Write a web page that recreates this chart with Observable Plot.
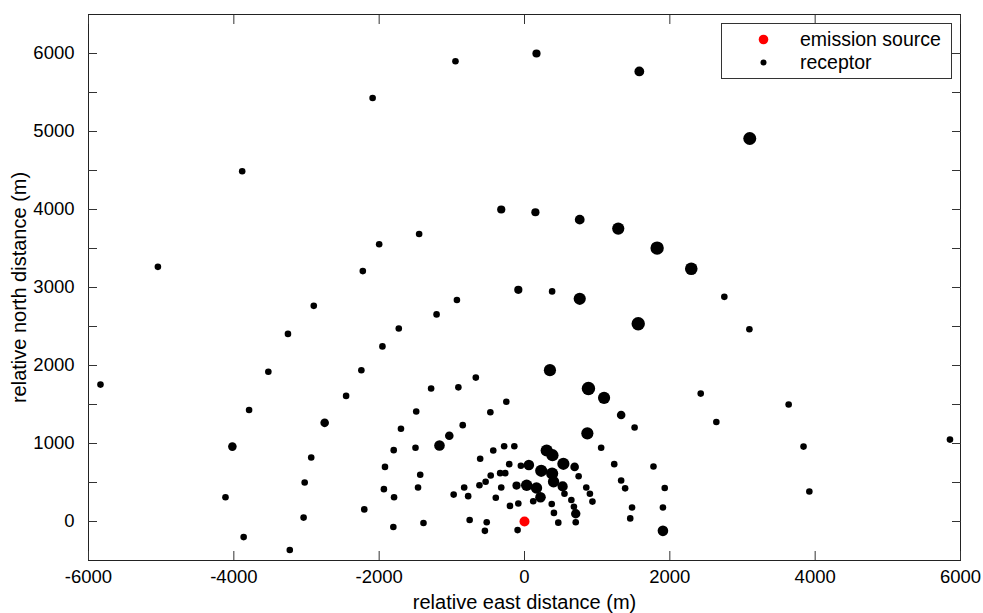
<!DOCTYPE html>
<html>
<head>
<meta charset="utf-8">
<script src="https://cdn.jsdelivr.net/npm/d3@7"></script>
<script src="https://cdn.jsdelivr.net/npm/@observablehq/plot@0.6"></script>
<style>
  html, body { margin: 0; padding: 0; background: white; }
  #wrap { position: relative; width: 983px; height: 613px; font-family: "Liberation Sans", Arial, sans-serif; }
  #legend { position: absolute; left: 721px; top: 23px; }
  #chart svg g[aria-label="x-axis label"] text, #chart svg g[aria-label="y-axis label"] text { font-size: 20px; }
</style>
</head>
<body>
<div id="wrap"><div id="chart"></div></div>
<script>
// Receptor positions (m) relative to the emission source, and relative concentration (marker size)
const eastDistance = [
  -950, 165, 1580, -2090, 3100, -3885, -320, -1450, -2000, -5045,
  -2225, 150, 760, 1290, 1825, 2295, -85, -930, -1210, -2900,
  -1730, -3255, -1955, -3525, -2245, -5835, -670, -1285, -910, -2455,
  -3790, -250, -470, -1490, -2750, -1700, -850, -1035, -4020, -1170,
  -1800, -1500, -280, -140, -430, -610, -2935, -1920, -210, -50,
  -335, -265, -465, -1435, -3025, -535, -620, -110, -320, -830,
  -1465, -1935, -4115, -1795, -975, -775, -395, -85, -200, -2205,
  -3040, -755, -520, -1390, -1805, -545, -95, -3865, -3230, 380,
  760, 2750, 1565, 3095, 350, 880, 1095, 2425, 3635, 1330,
  2640, 1515, 865, 5855, 1055, 3840, 305, 385, 60, 535,
  690, 1235, 1775, 230, 380, 745, 400, 30, 165, 525,
  850, 1330, 1930, 3920, 1385, 550, 220, 900, 120, 645,
  935, 375, 680, 1480, 1905, 405, 705, 1455, 465, 705,
  1905
];
const northDistance = [
  5900, 6000, 5770, 5430, 4910, 4490, 4000, 3685, 3555, 3265,
  3210, 3965, 3870, 3755, 3505, 3240, 2970, 2840, 2655, 2765,
  2475, 2405, 2245, 1920, 1940, 1755, 1845, 1705, 1720, 1610,
  1430, 1535, 1400, 1410, 1265, 1190, 1235, 1100, 960, 975,
  915, 945, 965, 965, 910, 805, 820, 700, 735, 715,
  620, 620, 590, 600, 500, 510, 465, 460, 435, 435,
  435, 415, 310, 310, 345, 325, 305, 230, 200, 155,
  50, 20, -10, -20, -70, -120, -110, -200, -365, 2950,
  2855, 2880, 2535, 2465, 1940, 1705, 1585, 1640, 1500, 1365,
  1275, 1205, 1130, 1050, 945, 960, 910, 850, 725, 740,
  700, 735, 705, 650, 615, 580, 510, 465, 430, 450,
  435, 525, 430, 385, 425, 355, 310, 355, 260, 275,
  255, 225, 190, 180, 180, 110, 100, 40, -15, -10,
  -120
];
const concentration = [
  1, 3, 5, 1, 9, 1, 3, 1, 1, 1,
  1, 3, 5, 8, 9.5, 8.5, 3, 1, 1, 1,
  1, 1, 1, 1, 1, 1, 1, 1, 1, 1,
  1, 1, 1, 1, 3.5, 1, 1, 3.5, 3.5, 6,
  1, 1, 1, 1, 1, 1, 1, 1, 1, 1,
  1, 1, 1, 1, 1, 1, 1, 3, 1, 1,
  1, 1, 1, 1, 1, 1, 1, 1, 1, 1,
  1, 1, 1, 1, 1, 1, 1, 1, 1, 1,
  8, 1, 9.5, 1, 8, 9.5, 8, 1, 1, 3.5,
  1, 1, 8, 1, 1, 1, 8, 8, 6, 8,
  3.5, 1, 1, 8, 8, 1, 7, 7, 7, 5.5,
  1, 1, 1, 1, 1, 1, 6, 1, 1, 1,
  1, 1, 1, 1, 1, 1, 4.5, 1, 1, 1,
  6
];
const sourceEast = [0];
const sourceNorth = [0];

const xTicks = [-6000, -4000, -2000, 0, 2000, 4000, 6000];
const yTickLabels = [0, 1000, 2000, 3000, 4000, 5000, 6000];
const yTickMarks = [0, 500, 1000, 1500, 2000, 2500, 3000, 3500, 4000, 4500, 5000, 5500, 6000];

const legendLabels = ["emission source", "receptor"];
const legendColors = ["red", "black"];

const receptors = eastDistance.map((x, i) => ({x, y: northDistance[i], c: concentration[i]}));
const sources = sourceEast.map((x, i) => ({x, y: sourceNorth[i]}));

const blank = () => "";
const chart = Plot.plot({
  width: 983,
  height: 613,
  marginLeft: 88,
  marginRight: 23,
  marginTop: 14,
  marginBottom: 53,
  style: {fontFamily: "'Liberation Sans', Arial, sans-serif", fontSize: "18.5px", color: "black", background: "white"},
  x: {domain: [-6000, 6000]},
  y: {domain: [-500, 6500]},
  r: {type: "linear", domain: [1, 10], range: [3.3, 6.9]},
  marks: [
    Plot.frame({stroke: "#222"}),
    Plot.axisX({ticks: xTicks, tickSize: -9, tickFormat: blank, label: null, stroke: "#333"}),
    Plot.axisX({anchor: "top", ticks: xTicks, tickSize: -9, tickFormat: blank, label: null, stroke: "#333"}),
    Plot.axisY({ticks: yTickMarks, tickSize: -9, tickFormat: blank, label: null, stroke: "#333"}),
    Plot.axisY({anchor: "right", ticks: yTickMarks, tickSize: -9, tickFormat: blank, label: null, stroke: "#333"}),
    Plot.axisX({ticks: xTicks, tickSize: 0, tickPadding: 9, tickFormat: d => String(d),
      label: "relative east distance (m)", labelAnchor: "center", labelArrow: "none", labelOffset: 48}),
    Plot.axisY({ticks: yTickLabels, tickSize: 0, tickPadding: 14, tickFormat: d => String(d),
      label: "relative north distance (m)", labelAnchor: "center", labelArrow: "none", labelOffset: 77}),
    Plot.dot(receptors, {x: "x", y: "y", r: "c", fill: "black", stroke: null}),
    Plot.dot(sources, {x: "x", y: "y", r: 5, fill: "red", stroke: null})
  ]
});
document.getElementById("chart").appendChild(chart);

// Legend box inside the plot area (top-right)
const leg = d3.select("#wrap").append("svg")
  .attr("id", "legend").attr("width", 232).attr("height", 57);
leg.append("rect").attr("x", 0.5).attr("y", 0.5).attr("width", 230).attr("height", 55)
  .attr("fill", "white").attr("stroke", "#333");
const legR = [4.8, 3];
legendLabels.forEach((lab, i) => {
  leg.append("circle").attr("cx", 42.5).attr("cy", 16.5 + i * 23).attr("r", legR[i]).attr("fill", legendColors[i]);
  leg.append("text").attr("x", 79).attr("y", 23 + i * 23)
    .attr("font-family", "'Liberation Sans', Arial, sans-serif").attr("font-size", 19.5).attr("fill", "black")
    .text(lab);
});
</script>
</body>
</html>
